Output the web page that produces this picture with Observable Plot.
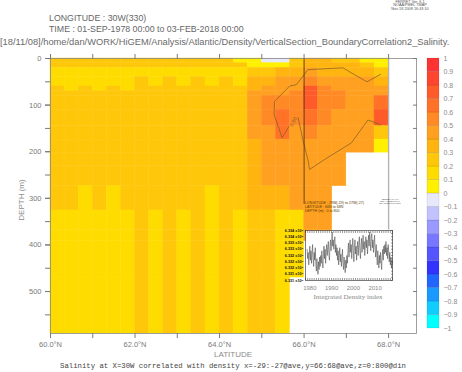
<!DOCTYPE html>
<html><head><meta charset="utf-8">
<script src="https://cdn.jsdelivr.net/npm/d3@7"></script>
<script src="https://cdn.jsdelivr.net/npm/@observablehq/plot@0.6"></script>
<style>
html,body{margin:0;padding:0;background:#fff;}
#c{position:relative;width:462px;height:372px;overflow:hidden;background:#fff;}
#c svg{position:absolute;left:0;top:0;}
.t{position:absolute;white-space:nowrap;line-height:1;}
</style></head><body><div id="c"></div>
<script>
// ---------- DATA ----------
const latEdges = [60,60.333,60.667,61,61.333,61.667,62,62.333,62.667,63,63.333,63.667,64,64.333,64.667,65,65.333,65.667,66,66.333,66.667,67,67.333,67.667,68];
const depthEdges = [0,10,20,40,60,70,80,110,145,174,202,231,274,326,368,392,470,590];
const N = null;
// correlation values, one row per depth layer, one value per latitude cell
const corr = [
 [.25,.25,.25,.25,.25,.25,.25,.25,.25,.25,.25,.25,.25,.05,.05,-.05,-.05,.25,.35,.35,.25,.25,.05,.05],
 [.25,.25,.25,.25,.25,.25,.25,.25,.25,.25,.25,.25,.25,.25,.05,.05,.05,.25,.35,.35,.35,.35,.25,.05],
 [.15,.15,.15,.15,.15,.15,.15,.15,.15,.15,.15,.15,.15,.15,.25,.25,.35,.35,.45,.35,.35,.35,.35,.25],
 [.15,.15,.15,.15,.15,.15,.25,.15,.25,.15,.25,.15,.25,.15,.35,.35,.45,.45,.55,.45,.45,.45,.45,.35],
 [.25,.15,.25,.15,.25,.15,.25,.25,.25,.25,.25,.25,.25,.25,.35,.45,.45,.45,.75,.55,.45,.45,.45,.45],
 [.25,.25,.25,.25,.25,.25,.25,.25,.25,.25,.25,.25,.25,.25,.45,.45,.45,.55,.75,.55,.55,.45,.45,.45],
 [.25,.25,.25,.25,.25,.25,.25,.25,.25,.25,.25,.25,.25,.25,.45,.55,.55,.55,.75,.55,.55,.45,.45,.65],
 [.25,.25,.25,.25,.25,.25,.25,.25,.25,.25,.25,.25,.25,.25,.45,.55,.65,.55,.65,.55,.45,.45,.45,.75],
 [.25,.25,.25,.25,.25,.25,.25,.25,.25,.25,.25,.25,.25,.25,.45,.45,.65,.45,.55,.45,.45,.45,.45,.25],
 [.25,.25,.25,.25,.25,.25,.25,.25,.25,.25,.25,.25,.25,.25,.35,.45,.45,.45,.45,.45,.45,.45,.45,.05],
 [.25,.25,.25,.25,.25,.25,.25,.25,.25,.25,.25,.25,.25,.25,.35,.45,.45,.45,.45,.45,.45,N,N,N],
 [.25,.25,.25,.25,.25,.25,.25,.25,.25,.25,.25,.25,.25,.25,.35,.45,.45,.45,.45,.45,.45,N,N,N],
 [.25,.25,.15,.25,.15,.25,.25,.25,.25,.25,.25,.15,.25,.25,.35,.35,.35,.45,.45,.45,N,N,N,N],
 [.15,.15,.15,.15,.15,.15,.25,.15,.25,.15,.25,.15,.25,.15,.25,.25,.15,.15,.45,.45,N,N,N,N],
 [.15,.15,.15,.15,.15,.15,.25,.15,.25,.15,.25,.15,.25,.15,.25,.25,.15,.15,.45,.45,N,N,N,N],
 [.15,.15,.15,.15,.15,.15,.25,.15,.25,.15,.25,.15,.25,.15,.25,.25,.15,.15,N,N,N,N,N,N],
 [.15,.15,.15,.15,.15,.15,.25,.15,.25,.15,.25,.15,.25,.15,.25,.25,.15,N,N,N,N,N,N,N]
];
// 0.50 contour
const contourLat   = [67.81,67.49,67.12,66.92,66.49,66.09,65.82,65.66,65.30,65.29,65.48,65.64,N,65.86,65.97,66.09,66.13,66.48,67.12,67.51,67.81];
const contourDepth = [34,50,31,20,22,24,56,59,92,120,170,146,N,127,174,217,238,217,181,132,142];
const contourLabel = {lat:65.75, depth:136, label:"0.50"};
const dividerLat = 66, dividerDepth = 313;
const edgeLat = 68, edgeDepth = 368;
// colour key
const binEdges = [-1,-0.9,-0.8,-0.7,-0.6,-0.5,-0.4,-0.3,-0.2,-0.1,0,0.1,0.2,0.3,0.4,0.5,0.6,0.7,0.8,0.9,1];
const binColors = ["#00ffff","#10ccff","#1a99ff","#2266ff","#3333ff","#5555ff","#7777ff","#9999ff","#c2c2ff","#e8e8fb",
                   "#fff000","#ffdc00","#ffc70a","#ffb40f","#ffa020","#ff8a25","#ff7228","#ff5a2a","#ff4530","#ff3333"];
const keyLabels = ["−1","−0.9","−0.8","−0.7","−0.6","−0.5","−0.4","−0.3","−0.2","−0.1","0","0.1","0.2","0.3","0.4","0.5","0.6","0.7","0.8","0.9","1"];
// axes
const latTicks = [60,61,62,63,64,65,66,67,68];
const latLabels = ["60.0°N","","62.0°N","","64.0°N","","66.0°N","","68.0°N"];
const depthTicks = [0,100,200,300,400,500];
const depthMinor = [0,50,100,150,200,250,300,350,400,450,500,550];
// inset: integrated density index (quarterly, from Sep 1978)
const seriesStart = 1978.75, seriesStep = 0.25;
const densityIndex = [
 63328,63322,63326,63318,63324,63330,63321,63327,
 63319,63325,63331,63322,63317,63326,63321,63329,
 63318,63314,63322,63316,63312,63320,63315,63323,
 63317,63324,63319,63327,63321,63316,63325,63330,
 63322,63328,63319,63326,63331,63324,63329,63333,
 63325,63321,63330,63334,63327,63332,63339,63330,
 63334,63328,63333,63336,63326,63331,63324,63329,
 63321,63327,63318,63324,63329,63320,63325,63317,
 63322,63328,63319,63315,63323,63318,63313,63321,
 63316,63324,63319,63327,63332,63323,63329,63334,
 63326,63331,63322,63329,63335,63327,63320,63330,
 63334,63325,63330,63321,63328,63333,63324,63331,
 63336,63327,63322,63330,63335,63326,63332,63337,
 63328,63333,63324,63330,63336,63329,63334,63325,
 63331,63337,63330,63339,63333,63327,63336,63338,
 63329,63334,63326,63332,63337,63328,63323,63331,
 63325,63318,63327,63321,63316,63324,63319,63326,
 63320,63315,63323,63328,63321,63330,63325,63331,
 63326,63333,63324,63329,63322,63331,63327,63320,
 63326,63318,63323,63316,63321,63319
];
const insetYTicks = [63308,63312,63316,63320,63324,63328,63332,63336,63340];
const insetYMinor = [63308,63310,63312,63314,63316,63318,63320,63322,63324,63326,63328,63330,63332,63334,63336,63338,63340];
const insetYears = d3.range(1978,2019);
const insetDecades = [1980,1990,2000,2010];

// ---------- BUILD ----------
const root = document.getElementById("c");
const cells = [];
corr.forEach((row,r)=>row.forEach((v,c)=>{ if(v!=null) cells.push({x1:latEdges[c],x2:latEdges[c+1],y1:depthEdges[r],y2:depthEdges[r+1],v}); }));
const contour = contourLat.map((lat,i)=>({lat, depth:contourDepth[i]}));
const bins = binColors.map((col,i)=>({lo:binEdges[i],hi:binEdges[i+1]}));
const series = densityIndex.map((v,i)=>({t:seriesStart+i*seriesStep, v}));
const colorScale = {type:"threshold", domain:binEdges.slice(1,-1), range:binColors};
const blank = ()=>"";

const main = Plot.plot({
  width:462, height:372, marginLeft:50, marginRight:46, marginTop:58, marginBottom:39,
  x:{domain:[60,68.66]}, y:{domain:[0,590], reverse:true}, color:colorScale,
  style:{background:"transparent", fontFamily:"'Liberation Sans',sans-serif", fontSize:"7.5px", color:"#7a7a7a"},
  marks:[
    Plot.rect(cells,{x1:"x1",x2:"x2",y1:"y1",y2:"y2",fill:"v",stroke:"v",strokeWidth:0.4}),
    Plot.line(contour,{x:"lat",y:"depth",stroke:"#7d5c22",strokeWidth:0.7}),
    Plot.text([contourLabel],{x:"lat",y:"depth",text:"label",rotate:-62,fontSize:5,fill:"#7d5c22"}),
    Plot.ruleX([dividerLat],{y1:0,y2:dividerDepth,stroke:"#3d2d10",strokeWidth:0.8}),
    Plot.ruleX([edgeLat],{y1:0,y2:edgeDepth,stroke:"#b4b4b4",strokeWidth:1.4}),
    Plot.frame({stroke:"#888",strokeWidth:0.8}),
    Plot.axisY({anchor:"left",ticks:depthTicks,tickSize:5,tickPadding:4,tickFormat:d=>String(d),label:null}),
    Plot.axisY({anchor:"left",ticks:depthMinor,tickSize:5,tickFormat:blank,label:null}),
    Plot.axisY({anchor:"right",ticks:depthMinor,tickSize:4,dx:-4,tickFormat:blank,label:null}),
    Plot.axisX({anchor:"bottom",ticks:latTicks,tickSize:5,tickPadding:3,tickFormat:(d,i)=>latLabels[latTicks.indexOf(d)],label:null}),
    Plot.axisX({anchor:"top",ticks:latTicks,tickSize:5,tickFormat:blank,label:null})
  ]
});
root.appendChild(main);

const cbar = Plot.plot({
  width:462, height:372, marginLeft:427, marginRight:23, marginTop:58, marginBottom:44,
  y:{domain:[-1,1]}, color:colorScale,
  style:{background:"transparent", fontFamily:"'Liberation Sans',sans-serif", fontSize:"7px", color:"#8a8a8a"},
  marks:[
    Plot.rect(bins,{y1:"lo",y2:"hi",fill:d=>(d.lo+d.hi)/2,stroke:"rgba(0,0,0,0.18)",strokeWidth:0.5}),
    Plot.axisY({anchor:"right",ticks:binEdges,tickSize:0,tickPadding:4,tickFormat:d=>keyLabels[binEdges.indexOf(d)],label:null})
  ]
});
root.appendChild(cbar);

const inset = Plot.plot({
  width:462, height:372, marginLeft:305, marginRight:70, marginTop:230, marginBottom:92,
  x:{domain:[1978,2018]}, y:{domain:[63308,63340]},
  style:{background:"transparent", fontFamily:"'Liberation Sans',sans-serif", fontSize:"6px", color:"#888"},
  marks:[
    Plot.frame({fill:"white",stroke:"#222",strokeWidth:0.6}),
    Plot.line(series,{x:"t",y:"v",stroke:"#3a3a3a",strokeWidth:0.5}),
    Plot.axisY({anchor:"left",ticks:insetYTicks,tickSize:0,tickPadding:2,tickFormat:d=>(d/10000).toFixed(3)+" x10⁴",fontSize:3.8,fontWeight:"bold",fill:"#111",label:null}),
    Plot.axisY({anchor:"right",ticks:insetYMinor,tickSize:2,dx:-2,tickFormat:blank,stroke:"#333",strokeWidth:0.5,label:null}),
    Plot.axisX({anchor:"bottom",ticks:insetYears,tickSize:2,dy:-2,tickFormat:blank,stroke:"#333",strokeWidth:0.5,label:null}),
    Plot.axisX({anchor:"top",ticks:insetYears,tickSize:2,dy:2,tickFormat:blank,stroke:"#333",strokeWidth:0.5,label:null}),
    Plot.axisX({anchor:"bottom",ticks:insetDecades,tickSize:0,tickPadding:5,tickFormat:d=>String(d),label:null})
  ]
});
root.appendChild(inset);

function txt(s,x,y,o={}){
  const d=document.createElement("div");
  d.className="t"; d.textContent=s;
  Object.assign(d.style,{left:x+"px",top:y+"px",fontSize:(o.size||8)+"px",color:o.color||"#666",
    fontFamily:o.font||"'Liberation Sans',sans-serif",fontWeight:o.weight||"normal"});
  let tr="";
  if(o.anchor==="middle") tr="translate(-50%,0)";
  if(o.anchor==="end") tr="translate(-100%,0)";
  if(o.rotate) tr="translate(-50%,-50%) rotate("+o.rotate+"deg)";
  d.style.transform=tr;
  root.appendChild(d);
}
txt("LONGITUDE : 30W(330)",49,13.5,{size:8.8,color:"#666"});
txt("TIME : 01-SEP-1978 00:00 to 03-FEB-2018 00:00",49,24.5,{size:8.8,color:"#666"});
txt("[18/11/08]/home/dan/WORK/HiGEM/Analysis/Atlantic/Density/VerticalSection_BoundaryCorrelation2_Salinity.",0,38.2,{size:9.3,color:"#6a6a6a"});
txt("FERRET Ver. 6.1",410,0.5,{size:3.8,color:"#555",anchor:"middle"});
txt("NOAA/PMEL TMAP",410,4.3,{size:3.8,color:"#555",anchor:"middle"});
txt("Nov 18 2008 16:43:10",410,8.1,{size:3.8,color:"#555",anchor:"middle"});
txt("DEPTH (m)",22,200,{size:8,color:"#8a8a8a",rotate:-90});
txt("LATITUDE",233,351,{size:8,color:"#8a8a8a",anchor:"middle"});
txt("Salinity at X=30W correlated with density x=-29:-27@ave,y=66:68@ave,z=0:800@din",233,362.5,{size:7.3,color:"#444",font:"'Liberation Mono',monospace",anchor:"middle"});
txt("LONGITUDE : 29W(-29) to 27W(-27)",305,202,{size:3.6,color:"#5a3a00"});
txt("LATITUDE : 66N to 68N",305,206.2,{size:3.6,color:"#5a3a00"});
txt("DEPTH (m) : 0 to 800",305,210.4,{size:3.6,color:"#5a3a00"});
txt("FERRET Ver. 6.1",390,197.5,{size:2.2,color:"#444",anchor:"middle"});
txt("NOAA/PMEL TMAP",390,199.8,{size:2.2,color:"#444",anchor:"middle"});
txt("Nov 18 2008 16:43:10",390,202.1,{size:2.2,color:"#444",anchor:"middle"});
txt("Integrated Density index",348,294,{size:7,color:"#8a8a8a",font:"'Liberation Serif',serif",anchor:"middle"});
</script></body></html>
